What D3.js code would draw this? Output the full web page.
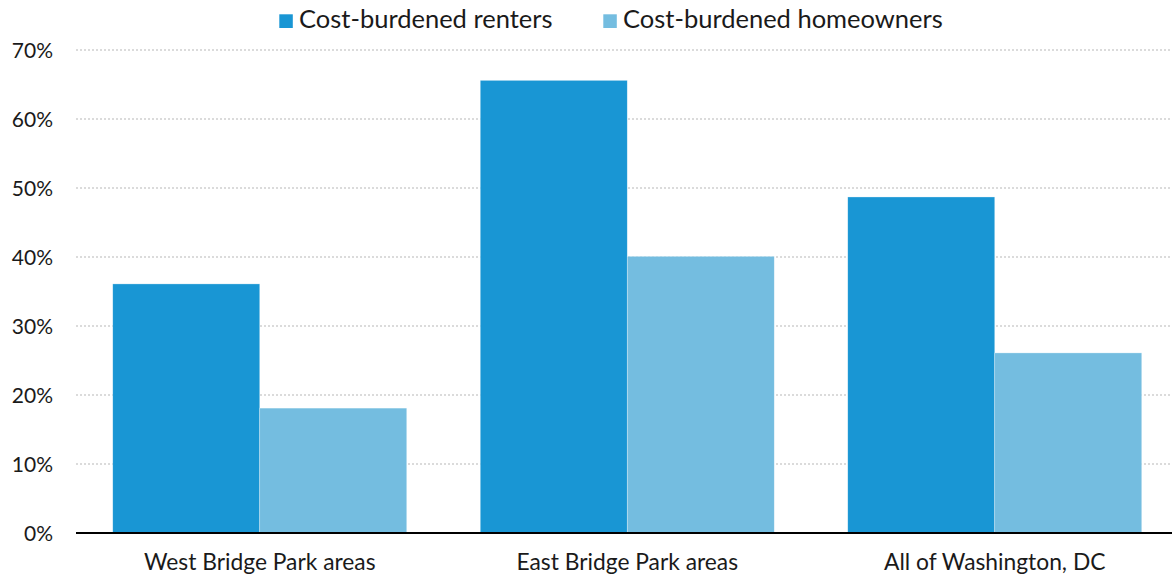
<!DOCTYPE html>
<html>
<head>
<meta charset="utf-8">
<script src="https://cdn.jsdelivr.net/npm/d3@7"></script>
<style>
  html, body { margin: 0; padding: 0; background: #fff; }
  svg { display: block; font-family: Lato, "Open Sans", sans-serif; }
</style>
</head>
<body>
<svg id="chart" width="1172" height="575"></svg>
<script>
// Share of households spending 30%+ of income on housing
const categories = ["West Bridge Park areas", "East Bridge Park areas", "All of Washington, DC"];
const seriesNames = ["Cost-burdened renters", "Cost-burdened homeowners"];
const renters = [36.1, 65.6, 48.7];
const homeowners = [18.1, 40.1, 26.1];
const tickValues = [0, 10, 20, 30, 40, 50, 60, 70];
const colors = ["#1996d4", "#74bde0"];

const svg = d3.select("#chart");
const margin = { top: 50, left: 76, bottom: 42 };
const height = 575;
const y0 = height - margin.bottom;

const x = d3.scaleBand().domain(categories).range([76, 1178.5])
  .paddingInner(0.2).paddingOuter(0.1);
const xs = d3.scaleBand().domain(seriesNames).range([0, x.bandwidth()]);
const y = d3.scaleLinear().domain([0, 70]).range([y0, margin.top]);

// gridlines
svg.append("g").selectAll("line").data(tickValues.filter(d => d > 0)).join("line")
  .attr("x1", 76).attr("x2", 1172)
  .attr("y1", d => y(d)).attr("y2", d => y(d))
  .attr("stroke", "#cfcfcf").attr("stroke-width", 1.6)
  .attr("stroke-dasharray", "2,2");

// y tick labels
const yAxis = d3.axisLeft(y).tickValues(tickValues).tickFormat(d => d + "%").tickSize(0).tickPadding(0);
const ya = svg.append("g").attr("transform", "translate(53,0)").call(yAxis);
ya.select(".domain").remove();
ya.selectAll("text").attr("font-size", 21).attr("fill", "#1a1a1a")
  .attr("font-family", "Lato, sans-serif").attr("dy", "0.35em");

// bars
const rows = categories.map((c, i) => ({ cat: c, vals: [renters[i], homeowners[i]] }));
const groups = svg.append("g").selectAll("g").data(rows).join("g")
  .attr("transform", d => `translate(${x(d.cat)},0)`);
groups.selectAll("rect").data(d => d.vals.map((v, j) => ({ v, s: seriesNames[j], j }))).join("rect")
  .attr("x", d => xs(d.s))
  .attr("width", xs.bandwidth())
  .attr("y", d => y(d.v))
  .attr("height", d => y0 - y(d.v))
  .attr("fill", d => colors[d.j])
  .attr("stroke", "#fff").attr("stroke-width", 0.6).attr("stroke-opacity", 0.5);

// baseline
svg.append("line").attr("x1", 76).attr("x2", 1172).attr("y1", y0).attr("y2", y0)
  .attr("stroke", "#000").attr("stroke-width", 2.2);

// x labels
const xAxis = d3.axisBottom(x).tickSize(0).tickPadding(0);
const xa = svg.append("g").attr("transform", `translate(0,${y0})`).call(xAxis);
xa.select(".domain").remove();
xa.selectAll("text").attr("font-size", 22.8).attr("fill", "#1a1a1a")
  .attr("font-family", "Lato, sans-serif").attr("dy", null).attr("y", 37);

// legend
const legendX = [279.3, 603.3];
const lg = svg.append("g").selectAll("g").data(seriesNames).join("g")
  .attr("transform", (d, i) => `translate(${legendX[i]},14.3)`);
lg.append("rect").attr("width", 13.5).attr("height", 13.7).attr("fill", (d, i) => colors[i]);
lg.append("text").attr("x", 19.7).attr("y", 13.7).attr("font-size", 25.5).attr("fill", "#1a1a1a")
  .attr("font-family", "Lato, sans-serif").text(d => d);
</script>
</body>
</html>
